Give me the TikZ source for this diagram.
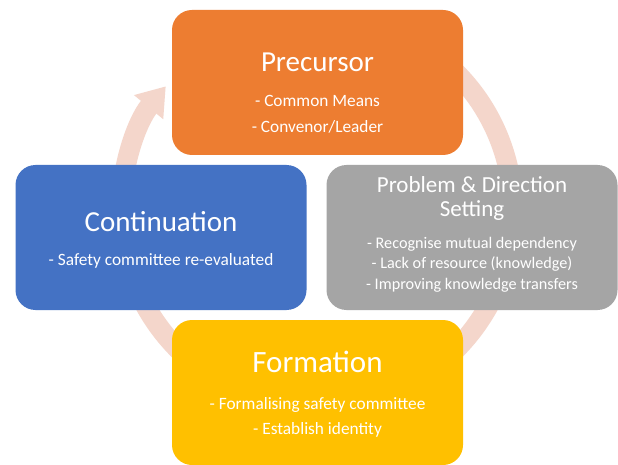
\documentclass[tikz,border=0pt]{standalone}
\usepackage{fontspec}
\setmainfont{Carlito}
\usetikzlibrary{arrows.meta}
\definecolor{precursor}{HTML}{ED7D31}
\definecolor{problem}{HTML}{A5A5A5}
\definecolor{formation}{HTML}{FFC000}
\definecolor{continuation}{HTML}{4472C4}
\definecolor{cyclepink}{RGB}{244,214,203}
\tikzset{
  stage/.style={rectangle, rounded corners=20pt, minimum width=291pt,
                minimum height=145pt, inner sep=0pt},
  heading/.style={anchor=base, text=white, inner sep=0pt},
  item/.style={anchor=base, text=white, inner sep=0pt,
               font=\fontsize{17.3}{20}\selectfont},
  cyclearrow/.style={line width=20pt, draw=cyclepink,
                     -{Triangle[length=27pt, width=36pt]}}
}

\begin{document}
\begin{tikzpicture}[x=1pt, y=1pt]
  \path[use as bounding box, fill=white] (0,0) rectangle (618,464);

  %% ── Cycle arrow behind the stages ─────────────────────────────────────
  \coordinate (hub) at (317,253);
  \draw[cyclearrow] ([shift={(60:196)}]hub) arc[start angle=60, end angle=-219.5, radius=196];

  %% ── Stages ────────────────────────────────────────────────────────────
  \node[stage, fill=precursor]    (pre)  at (317.5,381.5) {};
  \node[stage, fill=problem]      (prob) at (472,226.5)   {};
  \node[stage, fill=formation]    (form) at (317.5,71.5)  {};
  \node[stage, fill=continuation] (cont) at (161,226.5)   {};

  %% ── Precursor ─────────────────────────────────────────────────────────
  \node[heading, font=\fontsize{29}{35}\selectfont] (preTitle)
        at ([yshift=-61.7pt]pre.north) {Precursor};
  \node[item] (preA) at ([yshift=-97pt]pre.north)  {- Common Means};
  \node[item] (preB) at ([yshift=-123pt]pre.north) {- Convenor/Leader};

  %% ── Problem & Direction Setting ───────────────────────────────────────
  \node[heading, font=\fontsize{23}{28}\selectfont] (probTitle)
        at ([yshift=-28pt]prob.north) {Problem \& Direction};
  \node[heading, font=\fontsize{23}{28}\selectfont] (probTitleB)
        at ([yshift=-52pt]prob.north) {Setting};
  \node[item, font=\fontsize{16.2}{20}\selectfont] (probA)
        at ([yshift=-84pt]prob.north)  {- Recognise mutual dependency};
  \node[item, font=\fontsize{16.2}{20}\selectfont] (probB)
        at ([yshift=-104pt]prob.north) {- Lack of resource (knowledge)};
  \node[item, font=\fontsize{16.2}{20}\selectfont] (probC)
        at ([yshift=-125pt]prob.north) {- Improving knowledge transfers};

  %% ── Formation ─────────────────────────────────────────────────────────
  \node[heading, font=\fontsize{31}{37}\selectfont] (formTitle)
        at ([yshift=-53pt]form.north) {Formation};
  \node[item] (formA) at ([yshift=-90pt]form.north)  {- Formalising safety committee};
  \node[item] (formB) at ([yshift=-115pt]form.north) {- Establish identity};

  %% ── Continuation ──────────────────────────────────────────────────────
  \node[heading, font=\fontsize{29}{35}\selectfont] (contTitle)
        at ([yshift=-66.7pt]cont.north) {Continuation};
  \node[item] (contA) at ([yshift=-101pt]cont.north) {- Safety committee re-evaluated};

\end{tikzpicture}
\end{document}
